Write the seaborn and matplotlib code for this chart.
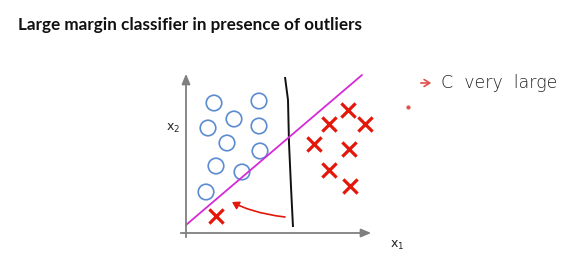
import matplotlib
matplotlib.use("Agg")
import matplotlib.pyplot as plt
import seaborn as sns
import pandas as pd
import numpy as np
from matplotlib import font_manager
from matplotlib.path import Path
from matplotlib.patches import FancyArrowPatch, PathPatch

# ---- data (x1, x2 feature coordinates) ----
neg_x1 = [1.4, 3.65, 2.4, 1.1, 3.65, 2.05, 3.7, 1.5, 2.8, 1.0]
neg_x2 = [6.5, 6.6, 5.7, 5.25, 5.35, 4.5, 4.1, 3.35, 3.05, 2.05]
pos_x1 = [7.15, 8.1, 8.95, 6.4, 8.15, 7.15, 8.2, 1.5]
pos_x2 = [5.45, 6.15, 5.45, 4.45, 4.2, 3.15, 2.35, 0.85]
# large-margin boundary (C very large) and the reasonable boundary
magenta_x1 = [0.0, 8.8]
magenta_x2 = [0.4, 7.9]
black_x1 = [4.95, 5.1, 5.15, 5.25, 5.35]
black_x2 = [7.8, 6.65, 4.5, 2.3, 0.3]
arrow_x1 = [4.95, 3.7, 2.85, 2.3]
arrow_x2 = [0.8, 0.95, 1.25, 1.55]

title = "Large margin classifier in presence of outliers"
note = "C  very  large"

sns.set_style("white")
names = {f.name for f in font_manager.fontManager.ttflist}
title_font = "Liberation Sans Narrow" if "Liberation Sans Narrow" in names else "Lato"

fig = plt.figure(figsize=(5.67, 2.64), dpi=100)
ax = fig.add_axes([0, 0, 1, 1])
ax.set_xlim(-9.3, 19.05)
ax.set_ylim(-1.55, 11.65)
ax.axis("off")

neg = pd.DataFrame({"x1": neg_x1, "x2": neg_x2})
pos = pd.DataFrame({"x1": pos_x1, "x2": pos_x2})

# axes arrows
grey = "#7f7f7f"
ax.annotate("", xy=(0, 8.1), xytext=(0, -0.35),
            arrowprops=dict(arrowstyle="-|>,head_length=0.6,head_width=0.25", color=grey, lw=1.3))
ax.annotate("", xy=(9.4, 0), xytext=(-0.4, 0),
            arrowprops=dict(arrowstyle="-|>,head_length=0.6,head_width=0.25", color=grey, lw=1.3))

# boundaries
sns.lineplot(x=magenta_x1, y=magenta_x2, ax=ax, color="#d62ad6", lw=1.3, sort=False)
verts = list(zip(black_x1, black_x2))
ax.add_patch(PathPatch(Path(verts, [Path.MOVETO] + [Path.LINETO] * (len(verts) - 1)),
                       fill=False, edgecolor="#111111", lw=1.4))

# points
sns.scatterplot(data=neg, x="x1", y="x2", ax=ax, marker="o", s=125,
                facecolor="none", edgecolor="#5b8bd0", linewidth=1.2)
sns.scatterplot(data=pos, x="x1", y="x2", ax=ax, marker="x", s=105,
                color="#e3170a", linewidth=2.3)

# red curved arrow
arr = FancyArrowPatch(path=Path(list(zip(arrow_x1, arrow_x2)),
                                [Path.MOVETO, Path.CURVE4, Path.CURVE4, Path.CURVE4]),
                      arrowstyle="-|>,head_length=4,head_width=2.5", color="#e3170a", lw=1.2)
ax.add_patch(arr)

# labels
ax.text(-0.65, 5.25, "x$_2$", ha="center", va="center", fontsize=9, color="#222222")
ax.text(10.55, -0.6, "x$_1$", ha="center", va="center", fontsize=9, color="#222222")

# title
t = fig.text(18 / 567, 1 - 25 / 264, title, ha="left", va="center",
             fontsize=15, fontweight="bold", family=[title_font, "DejaVu Sans"], color="#111111")
fig.canvas.draw()
w = t.get_window_extent().width
t.set_fontsize(15 * 345 / w)

# handwritten note
ax.annotate("", xy=(434, 264 - 83), xytext=(418, 264 - 83), xycoords="figure pixels",
            textcoords="figure pixels",
            arrowprops=dict(arrowstyle="->,head_length=0.4,head_width=0.25", color="#e0504a", lw=1.2))
fig.text(441 / 567, 1 - 83 / 264, note, ha="left", va="center", fontsize=12.5,
         color="#222222", family="DejaVu Sans", fontweight="light")
ax.plot([11.1], [6.3], marker="o", ms=2, color="#e0504a")

fig.savefig("out.png", dpi=100)
